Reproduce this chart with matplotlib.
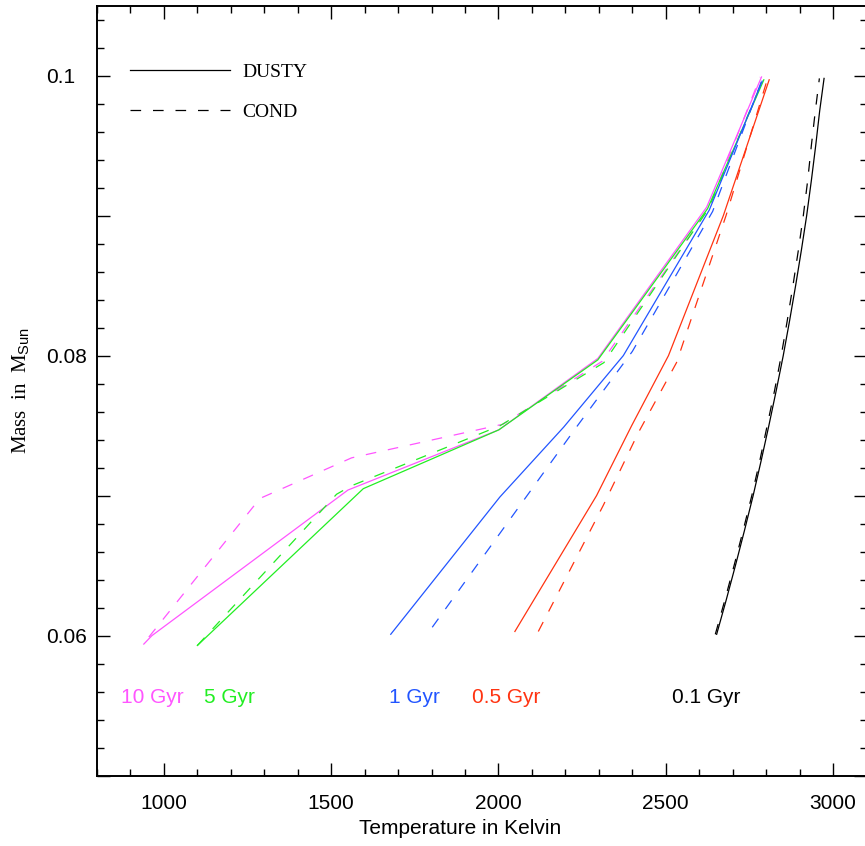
import numpy as np
import matplotlib
matplotlib.use('Agg')
import matplotlib.pyplot as plt
from matplotlib.ticker import MultipleLocator, FuncFormatter
from matplotlib.lines import Line2D

plt.rcParams['mathtext.fontset'] = 'custom'
plt.rcParams['mathtext.sf'] = 'Liberation Sans'
plt.rcParams['mathtext.rm'] = 'Liberation Serif'

# Isochrones: temperature (K) vs mass (M_sun), DUSTY (solid) and COND (dashed)
ages = ['10 Gyr', '5 Gyr', '1 Gyr', '0.5 Gyr', '0.1 Gyr']
colors = ['#ff55ff', '#22ee22', '#2255ff', '#ff3311', 'black']

dusty_10_T = [940, 964, 1550, 2001, 2297, 2622, 2786]
dusty_10_M = [0.0594, 0.0600, 0.0704, 0.0747, 0.0798, 0.0906, 0.0999]
cond_10_T = [955, 1287, 1561, 2013, 2310, 2628, 2782]
cond_10_M = [0.0599, 0.0698, 0.0727, 0.0751, 0.0796, 0.0905, 0.0999]

dusty_5_T = [1100, 1596, 2001, 2297, 2625, 2793]
dusty_5_M = [0.0593, 0.0705, 0.0747, 0.0797, 0.0905, 0.0997]
cond_5_T = [1100, 1516, 1560, 2005, 2315, 2628, 2790]
cond_5_M = [0.0593, 0.0701, 0.0707, 0.0750, 0.0795, 0.0905, 0.0997]

dusty_1_T = [1678, 2004, 2195, 2373, 2630, 2788]
dusty_1_M = [0.0601, 0.0699, 0.0749, 0.0800, 0.0904, 0.0996]
cond_1_T = [1802, 2230, 2400, 2640, 2786]
cond_1_M = [0.0606, 0.0748, 0.0803, 0.0903, 0.0996]

dusty_05_T = [2049, 2293, 2398, 2508, 2672, 2809]
dusty_05_M = [0.0603, 0.0700, 0.0750, 0.0800, 0.0900, 0.0997]
cond_05_T = [2119, 2313, 2418, 2532, 2680, 2803]
cond_05_M = [0.0603, 0.0693, 0.0745, 0.0795, 0.0900, 0.0997]

mass_01 = [0.0601, 0.0625, 0.065, 0.0675, 0.070, 0.0725, 0.075, 0.0775, 0.080,
           0.0825, 0.085, 0.0875, 0.090, 0.0925, 0.095, 0.0975, 0.0998]
dusty_01_T = [2652, 2680, 2708, 2735, 2761, 2785, 2808, 2830, 2851,
              2870, 2888, 2905, 2921, 2935, 2948, 2960, 2973]
cond_01_T = [2648, 2676, 2704, 2731, 2757, 2781, 2803, 2825, 2845,
             2863, 2880, 2896, 2911, 2924, 2935, 2947, 2959]

dusty_T = [dusty_10_T, dusty_5_T, dusty_1_T, dusty_05_T, dusty_01_T]
dusty_M = [dusty_10_M, dusty_5_M, dusty_1_M, dusty_05_M, mass_01]
cond_T = [cond_10_T, cond_5_T, cond_1_T, cond_05_T, cond_01_T]
cond_M = [cond_10_M, cond_5_M, cond_1_M, cond_05_M, mass_01]

label_T = [872, 1120, 1673, 1921, 2518]
label_M = 0.0556

fig = plt.figure(figsize=(8.65, 8.46), dpi=100)
ax = fig.add_axes([0.1121, 0.0831, 0.8897, 0.9103])

dash = (0, (8.5, 9.5))
lw = 0.9
for i in range(len(ages)):
    ax.plot(dusty_T[i], dusty_M[i], color=colors[i], lw=lw)
    ax.plot(cond_T[i], cond_M[i], color=colors[i], lw=lw, linestyle=dash)
    ax.text(label_T[i], label_M, ages[i], color=colors[i], fontsize=15,
            family='Liberation Sans', ha='left', va='center')

ax.set_xlim(800, 3100)
ax.set_ylim(0.05, 0.105)

ax.xaxis.set_major_locator(MultipleLocator(500))
ax.xaxis.set_minor_locator(MultipleLocator(100))
ax.yaxis.set_major_locator(MultipleLocator(0.01))
ax.yaxis.set_minor_locator(MultipleLocator(0.002))

def ylab(v, pos):
    shown = {0.06: '0.06', 0.08: '0.08', 0.1: '0.1'}
    for k, s in shown.items():
        if abs(v - k) < 1e-6:
            return s
    return ''

ax.yaxis.set_major_formatter(FuncFormatter(ylab))
ax.tick_params(which='both', direction='in', top=True, right=True, width=1.0)
ax.tick_params(which='major', length=9.6)
ax.tick_params(which='minor', length=4.8)
ax.tick_params(axis='x', which='major', pad=13.5, labelsize=15)
ax.tick_params(axis='y', which='major', pad=36.7, labelsize=15)
for lab in ax.get_xticklabels() + ax.get_yticklabels():
    lab.set_family('Liberation Sans')
for lab in ax.get_yticklabels():
    lab.set_horizontalalignment('left')
for s in ['left', 'bottom', 'top', 'right']:
    ax.spines[s].set_linewidth(1.4)

ax.set_xlabel('Temperature in Kelvin', fontsize=15, family='Liberation Sans')
ax.xaxis.set_label_coords(0.472, -0.056)
ax.set_ylabel(r'Mass  in  M$_{\mathsf{Sun}}$', fontsize=15, family='Liberation Serif')
ax.yaxis.set_label_coords(-0.0845, 0.5)

handles = [Line2D([], [], color='black', lw=lw),
           Line2D([], [], color='black', lw=lw, linestyle=dash)]
leg = ax.legend(handles, ['DUSTY', 'COND'], loc='upper left',
                bbox_to_anchor=(0.043, 0.925), frameon=False, borderpad=0,
                borderaxespad=0, handlelength=5.15, handletextpad=0.62,
                labelspacing=1.16, prop={'family': 'Liberation Serif', 'size': 14})

fig.savefig('out.png', dpi=100)
